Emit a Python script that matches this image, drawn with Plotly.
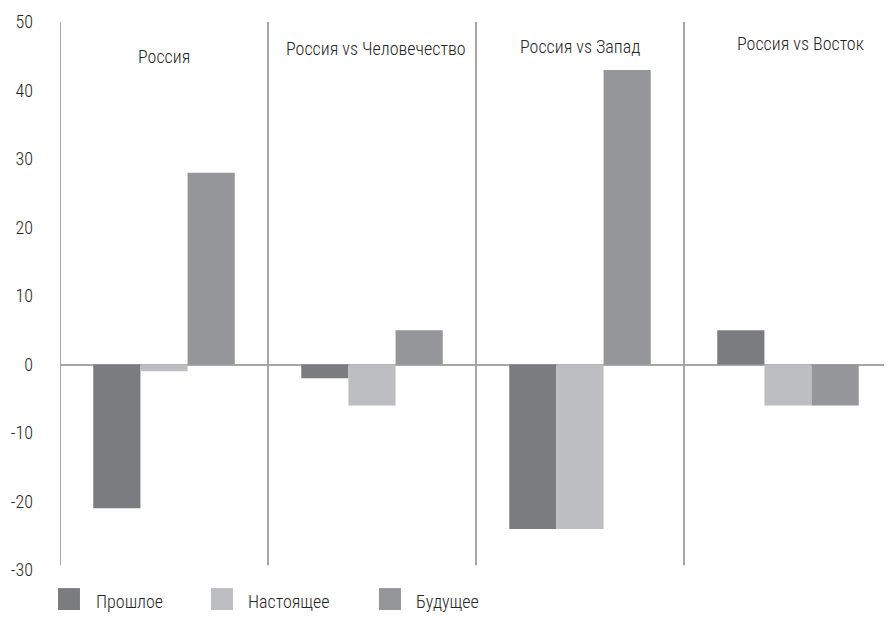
import plotly.graph_objects as go

categories = ["Россия", "Россия vs Человечество", "Россия vs Запад", "Россия vs Восток"]
series_names = ["Прошлое", "Настоящее", "Будущее"]
past = [-21, -2, -24, 5]
present = [-1, -6, -24, -6]
future = [28, 5, 43, -6]
yticks = [-30, -20, -10, 0, 10, 20, 30, 40, 50]

colors = ["#7b7c80", "#bdbec1", "#959699"]
FONT = "Roboto Condensed"
TXT = "#262626"
LINE = "#a6a6a6"
W = 300

fig = go.Figure()
for name, vals, col in zip(series_names, [past, present, future], colors):
    fig.add_trace(go.Bar(x=categories, y=vals, name=name, marker=dict(color=col, line=dict(width=0)),
                         showlegend=False))

# separators
for xv in [-0.5, 0.5, 1.5, 2.5]:
    fig.add_shape(type="line", xref="x", yref="y", x0=xv, x1=xv, y0=-29.3, y1=50,
                  line=dict(color=LINE, width=2), layer="below")

# group titles
title_y = [44.9, 46.1, 46.4, 46.9]
title_dx = [0, 0.02, 0, 0.06]
for i, (c, ty) in enumerate(zip(categories, title_y)):
    fig.add_annotation(x=i + title_dx[i], y=ty, xref="x", yref="y", text=c, showarrow=False,
                       font=dict(family=FONT, size=18, color=TXT, weight=W))

# manual legend
leg_x = [-0.0024, 0.1815, 0.3834]
leg_tx = [0.041, 0.2236, 0.4255]
for name, col, lx, tx in zip(series_names, colors, leg_x, leg_tx):
    fig.add_shape(type="rect", xref="paper", yref="paper", x0=lx, x1=lx + 0.0264,
                  y0=-0.033, y1=-0.073, fillcolor=col, line=dict(width=0))
    fig.add_annotation(x=tx, y=-0.058, xref="paper", yref="paper", text=name,
                       showarrow=False, xanchor="left", yanchor="middle",
                       font=dict(family=FONT, size=18, color=TXT, weight=W))

fig.update_layout(
    width=884, height=616,
    margin=dict(l=52, r=0, t=14, b=54),
    paper_bgcolor="white", plot_bgcolor="white",
    barmode="group", bargap=0.32, bargroupgap=0,
    font=dict(family=FONT, size=18, color=TXT, weight=W),
    xaxis=dict(range=[-0.5, 3.5], showticklabels=False, showgrid=False, zeroline=False,
               showline=False, fixedrange=True),
    yaxis=dict(range=[-30, 50], tickvals=yticks, ticktext=[str(v) for v in yticks],
               showgrid=False, zeroline=True, zerolinecolor=LINE, zerolinewidth=2,
               showline=False, ticks="", ticklabelstandoff=26,
               tickfont=dict(family=FONT, size=18, color=TXT, weight=W)),
)

fig.write_html("out.html")
